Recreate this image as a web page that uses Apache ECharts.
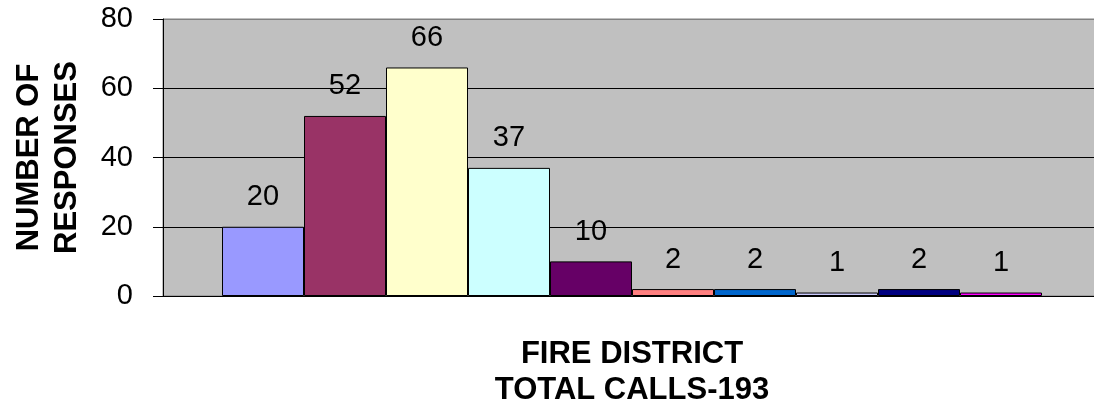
<!DOCTYPE html>
<html>
<head>
<meta charset="utf-8">
<script src="https://cdn.jsdelivr.net/npm/echarts@6/dist/echarts.min.js"></script>
<style>
  html, body { margin: 0; padding: 0; background: #fff; }
  #chart { width: 1094px; height: 413px; }
</style>
</head>
<body>
<div id="chart"></div>
<script>
// datos del grafico
var districts = ['1', '2', '3', '4', '5', '6', '7', '8', '9', '10'];
var responses = [20, 52, 66, 37, 10, 2, 2, 1, 2, 1];
var yTicks = [0, 20, 40, 60, 80];

// colores tipo Excel
var barColors = ['#9999FF', '#993366', '#FFFFCC', '#CCFFFF', '#660066',
                 '#FF8080', '#0066CC', '#CCCCFF', '#000080', '#FF00FF'];

var myChart = echarts.init(document.getElementById('chart'));
var font = 'Liberation Sans, Arial, sans-serif';

// una serie por distrito, todas en una sola categoria
var series = districts.map(function (d, i) {
  return {
    name: d,
    type: 'bar',
    data: [responses[i]],
    barWidth: 82,
    barGap: '0%',
    itemStyle: { color: barColors[i], borderColor: '#000', borderWidth: 1 },
    label: {
      show: true,
      position: 'top',
      distance: 15,
      fontSize: 29,
      fontFamily: font,
      color: '#000'
    }
  };
});

var option = {
  animation: false,
  grid: {
    left: 163,
    right: -7,
    top: 19,
    bottom: 117,
    containLabel: false,
    outerBoundsMode: 'none',
    show: true,
    backgroundColor: '#C0C0C0',
    borderColor: '#808080',
    borderWidth: 1
  },
  xAxis: {
    type: 'category',
    data: [''],
    axisLine: { lineStyle: { color: '#000', width: 1 } },
    axisTick: { show: false },
    axisLabel: { show: false },
    name: 'FIRE DISTRICT\nTOTAL CALLS-193',
    nameLocation: 'middle',
    nameGap: 40,
    nameTextStyle: {
      fontSize: 31,
      fontWeight: 'bold',
      fontFamily: font,
      color: '#000',
      lineHeight: 36
    }
  },
  yAxis: {
    type: 'value',
    min: yTicks[0],
    max: yTicks[yTicks.length - 1],
    interval: 20,
    axisLine: { show: true, lineStyle: { color: '#000', width: 1 } },
    axisTick: { show: true, length: 10, lineStyle: { color: '#000' } },
    axisLabel: { fontSize: 29, fontFamily: font, color: '#000', margin: 30 },
    splitLine: { show: true, lineStyle: { color: ['#000', '#000', '#000', '#000', '#808080'], width: 1 } },
    name: 'NUMBER OF\nRESPONSES',
    nameLocation: 'middle',
    nameRotate: 90,
    nameGap: 77,
    nameTextStyle: {
      fontSize: 31,
      fontWeight: 'bold',
      fontFamily: font,
      color: '#000',
      lineHeight: 38
    }
  },
  series: series
};

option && myChart.setOption(option);
</script>
</body>
</html>
